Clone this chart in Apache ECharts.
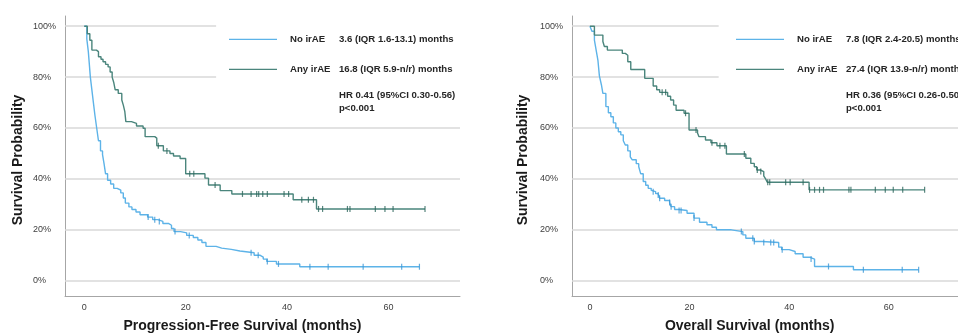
<!DOCTYPE html>
<html>
<head>
<meta charset="utf-8">
<script src="https://cdn.jsdelivr.net/npm/echarts@6/dist/echarts.min.js"></script>
<style>
html,body{margin:0;padding:0;background:#fff;}
#c{width:958px;height:336px;}
</style>
</head>
<body>
<div id="c"></div>
<script>
// ---------- data (months, survival %) ----------
const xTicks = [0, 20, 40, 60];
const yTicks = [0, 20, 40, 60, 80, 100];

const pfsNoIrae = [[0,100],[0.5,95],[0.8,90],[1.0,85],[1.2,80],[1.5,75],[1.8,70],[2.1,65],[2.45,60],[2.8,55],[3.2,51],[3.6,49.5],[3.9,46],[4.2,42],[4.6,39.5],[5.2,38],[5.8,36.3],[6.5,35.6],[7.2,34.5],[7.7,32.5],[8.1,30.5],[8.8,29],[9.4,28],[10.2,27],[11,25.9],[12.5,25],[13.5,24],[14.5,23.3],[15.5,22.5],[16.6,21.8],[17.2,20.5],[17.7,19.3],[19,18.8],[20.2,17.8],[21.5,17],[22.4,16],[23.2,15],[24,13.5],[26,12.8],[27.1,12.3],[29,11.7],[30.7,11],[33.5,10],[34.7,9.3],[35.3,8.5],[36,7.6],[37.9,6.6],[42.5,5.5],[66.1,5.5]];
const pfsNoCens = [[12.6,25],[13.9,24],[14.8,23.3],[17.9,19.3],[20.7,17.8],[32.9,11],[34.3,10],[36.1,7.6],[38.3,6.6],[44.5,5.5],[48.1,5.5],[55.0,5.5],[62.6,5.5],[66.1,5.5]];

const pfsAnyIrae = [[0,100],[0.6,97],[1.1,94.5],[1.5,90.6],[2.4,90],[2.8,88],[3.3,87],[3.7,86],[4.2,85],[4.7,84],[5.1,82],[5.5,80],[5.8,78],[6.1,75],[6.7,73.6],[7.4,71],[7.7,69],[8.0,66.4],[8.2,62.5],[9.3,61.8],[10.3,60.8],[11.6,59.9],[12,56.6],[13.9,56],[14.3,53],[15.6,51],[16.9,50],[17.6,49],[18.9,48],[20,42],[23.8,40.3],[24.5,37.6],[26.8,35.4],[29.1,34.1],[41.2,31.8],[45.8,28.2],[67.2,28.2]];
const pfsAnyCens = [[14.6,53],[16.3,51],[20.8,42],[21.6,42],[25.8,37.6],[31.2,34.1],[32.9,34.1],[34.0,34.1],[34.4,34.1],[35.2,34.1],[36.1,34.1],[39.4,34.1],[40.3,34.1],[42.9,31.8],[44.2,31.8],[45.2,31.8],[46.2,28.2],[47.0,28.2],[51.9,28.2],[52.4,28.2],[57.4,28.2],[59.3,28.2],[60.9,28.2],[67.2,28.2]];

const osNoIrae = [[0,100],[0.4,98],[0.9,94.5],[1.3,90],[1.6,86.7],[1.9,80.5],[2.3,77],[2.6,73.6],[3.2,68.4],[3.7,66],[4.2,64.4],[4.7,62],[5.2,60],[5.7,58.5],[6.2,57.3],[6.7,55],[7.1,53.3],[7.6,51],[8.1,48.7],[8.5,47.5],[9.3,46],[9.8,44.8],[10.2,42],[10.7,39],[11.2,37.5],[11.7,36.3],[12.3,35.5],[12.7,35],[13.2,34.2],[13.7,33.7],[14.0,32.4],[15.0,31.5],[16.0,30.7],[16.3,29.1],[17.0,28],[17.9,27.6],[19.5,26.5],[20.9,24.6],[22,23],[23.5,22],[24.5,21],[25.4,20],[28.4,19.3],[30.7,18],[31.3,16.7],[33,15.4],[34.6,15],[37.9,13.2],[38.5,12.2],[40,11.5],[41.2,10.6],[42.8,9.2],[44.2,8.5],[45.1,5.6],[52.9,4.3],[66.0,4.3]];
const osNoCens = [[12.7,35],[13.7,33.7],[14.0,32.4],[16.0,30.7],[16.3,29.1],[17.9,27.6],[18.3,27.6],[20.9,24.6],[30.4,19.3],[32.7,16.7],[33.0,15.4],[34.9,15],[36.3,15],[36.9,15],[38.6,12.2],[44.4,8.5],[47.9,5.6],[54.9,4.3],[62.7,4.3],[66.0,4.3]];

const osAnyIrae = [[0,100],[0.9,96.5],[2.6,94],[2.9,92],[3.5,90.6],[6.5,89.3],[7.1,88.6],[7.6,86],[8.2,83],[11,79.5],[12.7,76.5],[13.4,75],[14,74],[15.6,72.5],[16.2,71],[16.8,69],[17.3,67],[18.9,65.8],[19.9,59.2],[21.6,58],[21.9,56.6],[23.2,55.3],[24.3,54.2],[25.5,53],[27.4,49.8],[31.3,48.1],[32.3,46.1],[33,44.8],[33.5,43.5],[34.2,42.9],[34.9,41.2],[35.3,39.9],[35.6,38.7],[44.0,35.7],[67.2,35.7]];
const osAnyCens = [[14.5,74],[15.2,74],[19.2,65.8],[21.3,59.2],[24.5,54.2],[26.1,53],[27.1,53],[31.0,49.8],[33.6,43.5],[34.3,42.9],[35.7,38.7],[36.1,38.7],[39.3,38.7],[40.2,38.7],[42.8,38.7],[44.1,35.7],[45.1,35.7],[46.1,35.7],[46.9,35.7],[52.0,35.7],[52.4,35.7],[57.3,35.7],[59.3,35.7],[60.9,35.7],[62.8,35.7],[67.2,35.7]];

const legendGroups = ['No irAE', 'Any irAE'];
const pfsMedians = ['3.6 (IQR 1.6-13.1) months', '16.8 (IQR 5.9-n/r) months'];
const osMedians = ['7.8 (IQR 2.4-20.5) months', '27.4 (IQR 13.9-n/r) months'];
const pfsStats = ['HR 0.41 (95%CI 0.30-0.56)', 'p<0.001'];
const osStats = ['HR 0.36 (95%CI 0.26-0.50)', 'p<0.001'];
const xTitles = ['Progression-Free Survival (months)', 'Overall Survival (months)'];
const yTitle = 'Survival Probability';

// ---------- styles ----------
const FONT = "'Liberation Sans', Arial, sans-serif";
const BLUE = '#5db3e8';
const BLUE_DARK = '#3b97d6';
const TEAL = '#4a857c';
const TEAL_DARK = '#2d665d';
const GRID = '#d9d9d9';
const AXIS = '#a6a6a6';
const LEG_FONT = 'bold 9.6px ' + FONT;
const TITLE_FONT = 'bold 14px ' + FONT;

const panels = [
  {left: 65, xMin: -3.8, xMax: 74.1, cut: 26.0, no: pfsNoIrae, noC: pfsNoCens, any: pfsAnyIrae, anyC: pfsAnyCens, med: pfsMedians, stats: pfsStats, title: xTitles[0], titleX: 242.5, yTitleX: 18},
  {left: 572, xMin: -3.6, xMax: 73.9, cut: 25.85, no: osNoIrae, noC: osNoCens, any: osAnyIrae, anyC: osAnyCens, med: osMedians, stats: osStats, title: xTitles[1], titleX: 749.7, yTitleX: 523}
];

const grids = [], xAxes = [], yAxes = [], series = [], graphics = [];
panels.forEach((p, i) => {
  grids.push({left: p.left, top: 16, width: 395, height: 280, containLabel: false});
  xAxes.push({
    type: 'value', gridIndex: i, min: p.xMin, max: p.xMax,
    axisLine: {show: true, onZero: false, lineStyle: {color: AXIS, width: 1}},
    axisTick: {show: false},
    splitLine: {show: false},
    axisLabel: {customValues: xTicks, color: '#404040', fontSize: 9, fontFamily: FONT, margin: 7}
  });
  yAxes.push({
    type: 'value', gridIndex: i, min: -6, max: 104,
    axisLine: {show: true, onZero: false, lineStyle: {color: AXIS, width: 1}},
    axisTick: {show: false},
    splitLine: {show: false},
    axisLabel: {customValues: yTicks, formatter: v => v + '%', color: '#404040', fontSize: 9, fontFamily: FONT, margin: 32, align: 'left'}
  });
  // gridlines
  series.push({
    type: 'line', xAxisIndex: i, yAxisIndex: i, data: [], silent: true, z: 1,
    markLine: {
      z: 1, silent: true, symbol: ['none', 'none'], label: {show: false}, animation: false,
      lineStyle: {color: GRID, width: 1.5, type: 'solid'},
      emphasis: {disabled: true},
      data: yTicks.map(t => t >= 80
        ? [{coord: [p.xMin, t]}, {coord: [p.cut, t]}]
        : {yAxis: t})
    }
  });
  series.push({type: 'line', name: legendGroups[0], xAxisIndex: i, yAxisIndex: i, data: p.no, step: 'end', showSymbol: false, z: 2,
    lineStyle: {color: BLUE, width: 1.4}, itemStyle: {color: BLUE}});
  series.push({type: 'line', name: legendGroups[1], xAxisIndex: i, yAxisIndex: i, data: p.any, step: 'end', showSymbol: false, z: 2,
    lineStyle: {color: TEAL, width: 1.4}, itemStyle: {color: TEAL}});
  series.push({type: 'scatter', xAxisIndex: i, yAxisIndex: i, data: p.noC, symbol: 'rect', symbolSize: [1.2, 6], z: 3,
    itemStyle: {color: BLUE_DARK}});
  series.push({type: 'scatter', xAxisIndex: i, yAxisIndex: i, data: p.anyC, symbol: 'rect', symbolSize: [1.2, 6], z: 3,
    itemStyle: {color: TEAL_DARK}});

  const L = p.left;
  const rows = [39.3, 69.3];
  [BLUE, TEAL].forEach((c, k) => {
    graphics.push({type: 'line', z: 10, shape: {x1: L + 164, y1: rows[k], x2: L + 212, y2: rows[k]}, style: {stroke: c, lineWidth: 1.3}});
    graphics.push({type: 'text', z: 10, x: L + 225, y: rows[k], style: {text: legendGroups[k], font: LEG_FONT, fill: '#262626', textVerticalAlign: 'middle'}});
    graphics.push({type: 'text', z: 10, x: L + 274, y: rows[k], style: {text: p.med[k], font: LEG_FONT, fill: '#262626', textVerticalAlign: 'middle'}});
  });
  graphics.push({type: 'text', z: 10, x: L + 274, y: 95, style: {text: p.stats[0], font: LEG_FONT, fill: '#262626', textVerticalAlign: 'middle'}});
  graphics.push({type: 'text', z: 10, x: L + 274, y: 108.7, style: {text: p.stats[1], font: LEG_FONT, fill: '#262626', textVerticalAlign: 'middle'}});
  graphics.push({type: 'text', z: 10, x: p.titleX, y: 326.5, style: {text: p.title, font: TITLE_FONT, fill: '#1a1a1a', textAlign: 'center', textVerticalAlign: 'middle'}});
  graphics.push({type: 'text', z: 10, x: p.yTitleX, y: 160, rotation: Math.PI / 2, style: {text: yTitle, font: TITLE_FONT, fill: '#1a1a1a', textAlign: 'center', textVerticalAlign: 'middle'}});
});

const chart = echarts.init(document.getElementById('c'), null, {renderer: 'canvas'});
chart.setOption({
  animation: false,
  backgroundColor: '#fff',
  grid: grids, xAxis: xAxes, yAxis: yAxes, series: series,
  graphic: {elements: graphics}
});
</script>
</body>
</html>
